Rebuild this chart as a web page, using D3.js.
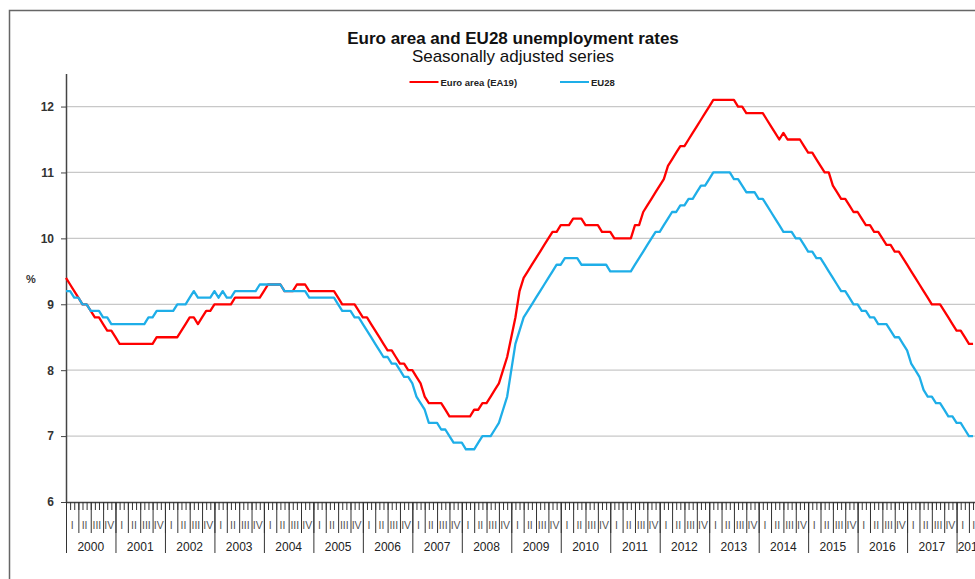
<!DOCTYPE html>
<html>
<head>
<meta charset="utf-8">
<script src="https://cdn.jsdelivr.net/npm/d3@7"></script>
<style>
  body { margin: 0; background: #fff; }
  svg { display: block; font-family: "Liberation Sans", Arial, sans-serif; }
</style>
</head>
<body>
<div id="chart"></div>
<script>
// DATA (monthly, Jan 2000 - May 2018, %)
const euroArea = [
  9.4, 9.3, 9.2, 9.1, 9.0, 9.0, 8.9, 8.8, 8.8, 8.7, 8.6, 8.6, // 2000
  8.5, 8.4, 8.4, 8.4, 8.4, 8.4, 8.4, 8.4, 8.4, 8.4, 8.5, 8.5, // 2001
  8.5, 8.5, 8.5, 8.5, 8.6, 8.7, 8.8, 8.8, 8.7, 8.8, 8.9, 8.9, // 2002
  9.0, 9.0, 9.0, 9.0, 9.0, 9.1, 9.1, 9.1, 9.1, 9.1, 9.1, 9.1, // 2003
  9.2, 9.3, 9.3, 9.3, 9.3, 9.2, 9.2, 9.2, 9.3, 9.3, 9.3, 9.2, // 2004
  9.2, 9.2, 9.2, 9.2, 9.2, 9.2, 9.1, 9.0, 9.0, 9.0, 9.0, 8.9, // 2005
  8.8, 8.8, 8.7, 8.6, 8.5, 8.4, 8.3, 8.3, 8.2, 8.1, 8.1, 8.0, // 2006
  8.0, 7.9, 7.8, 7.6, 7.5, 7.5, 7.5, 7.5, 7.4, 7.3, 7.3, 7.3, // 2007
  7.3, 7.3, 7.3, 7.4, 7.4, 7.5, 7.5, 7.6, 7.7, 7.8, 8.0, 8.2, // 2008
  8.5, 8.8, 9.2, 9.4, 9.5, 9.6, 9.7, 9.8, 9.9, 10.0, 10.1, 10.1, // 2009
  10.2, 10.2, 10.2, 10.3, 10.3, 10.3, 10.2, 10.2, 10.2, 10.2, 10.1, 10.1, // 2010
  10.1, 10.0, 10.0, 10.0, 10.0, 10.0, 10.2, 10.2, 10.4, 10.5, 10.6, 10.7, // 2011
  10.8, 10.9, 11.1, 11.2, 11.3, 11.4, 11.4, 11.5, 11.6, 11.7, 11.8, 11.9, // 2012
  12.0, 12.1, 12.1, 12.1, 12.1, 12.1, 12.1, 12.0, 12.0, 11.9, 11.9, 11.9, // 2013
  11.9, 11.9, 11.8, 11.7, 11.6, 11.5, 11.6, 11.5, 11.5, 11.5, 11.5, 11.4, // 2014
  11.3, 11.3, 11.2, 11.1, 11.0, 11.0, 10.8, 10.7, 10.6, 10.6, 10.5, 10.4, // 2015
  10.4, 10.3, 10.2, 10.2, 10.1, 10.1, 10.0, 9.9, 9.9, 9.8, 9.8, 9.7, // 2016
  9.6, 9.5, 9.4, 9.3, 9.2, 9.1, 9.0, 9.0, 9.0, 8.9, 8.8, 8.7, // 2017
  8.6, 8.6, 8.5, 8.4, 8.4 // 2018
];

const eu28 = [
  9.2, 9.2, 9.1, 9.1, 9.0, 9.0, 8.9, 8.9, 8.9, 8.8, 8.8, 8.7, // 2000
  8.7, 8.7, 8.7, 8.7, 8.7, 8.7, 8.7, 8.7, 8.8, 8.8, 8.9, 8.9, // 2001
  8.9, 8.9, 8.9, 9.0, 9.0, 9.0, 9.1, 9.2, 9.1, 9.1, 9.1, 9.1, // 2002
  9.2, 9.1, 9.2, 9.1, 9.1, 9.2, 9.2, 9.2, 9.2, 9.2, 9.2, 9.3, // 2003
  9.3, 9.3, 9.3, 9.3, 9.3, 9.2, 9.2, 9.2, 9.2, 9.2, 9.2, 9.1, // 2004
  9.1, 9.1, 9.1, 9.1, 9.1, 9.1, 9.0, 8.9, 8.9, 8.9, 8.8, 8.8, // 2005
  8.7, 8.6, 8.5, 8.4, 8.3, 8.2, 8.2, 8.1, 8.1, 8.0, 7.9, 7.9, // 2006
  7.8, 7.6, 7.5, 7.4, 7.2, 7.2, 7.2, 7.1, 7.1, 7.0, 6.9, 6.9, // 2007
  6.9, 6.8, 6.8, 6.8, 6.9, 7.0, 7.0, 7.0, 7.1, 7.2, 7.4, 7.6, // 2008
  8.0, 8.4, 8.6, 8.8, 8.9, 9.0, 9.1, 9.2, 9.3, 9.4, 9.5, 9.6, // 2009
  9.6, 9.7, 9.7, 9.7, 9.7, 9.6, 9.6, 9.6, 9.6, 9.6, 9.6, 9.6, // 2010
  9.5, 9.5, 9.5, 9.5, 9.5, 9.5, 9.6, 9.7, 9.8, 9.9, 10.0, 10.1, // 2011
  10.1, 10.2, 10.3, 10.4, 10.4, 10.5, 10.5, 10.6, 10.6, 10.7, 10.8, 10.8, // 2012
  10.9, 11.0, 11.0, 11.0, 11.0, 11.0, 10.9, 10.9, 10.8, 10.7, 10.7, 10.7, // 2013
  10.6, 10.6, 10.5, 10.4, 10.3, 10.2, 10.1, 10.1, 10.1, 10.0, 10.0, 9.9, // 2014
  9.8, 9.8, 9.7, 9.7, 9.6, 9.5, 9.4, 9.3, 9.2, 9.2, 9.1, 9.0, // 2015
  9.0, 8.9, 8.9, 8.8, 8.8, 8.7, 8.7, 8.7, 8.6, 8.5, 8.5, 8.4, // 2016
  8.3, 8.1, 8.0, 7.9, 7.7, 7.6, 7.6, 7.5, 7.5, 7.4, 7.3, 7.3, // 2017
  7.2, 7.2, 7.1, 7.0, 7.0 // 2018
];

const seriesNames = ["Euro area (EA19)", "EU28"];
const seriesColors = ["#ff0000", "#1eaee8"];
const yTicks = [6, 7, 8, 9, 10, 11, 12];
const yearLabels = ["2000", "2001", "2002", "2003", "2004", "2005", "2006", "2007", "2008",
  "2009", "2010", "2011", "2012", "2013", "2014", "2015", "2016", "2017", "2018"];
const quarterLabels = ["I", "II", "III", "IV"];
const axisMonths = 223; // axis runs to end of July 2018

// CHART
const width = 975;
const height = 579;
const margin = { top: 73.6, bottom: 77, left: 66 };
const monthWidth = 4.123;

const svg = d3
  .select("div#chart")
  .append("svg")
  .attr("width", width)
  .attr("height", height);

// marco exterior
svg
  .append("path")
  .attr("d", `M9.5,${height}V10.5H${width}`)
  .attr("fill", "none")
  .attr("stroke", "#666")
  .attr("stroke-width", 1.5);

const x = d3
  .scaleLinear()
  .domain([0, axisMonths])
  .range([margin.left, margin.left + axisMonths * monthWidth]);

const y = d3
  .scaleLinear()
  .domain([6, 12.5])
  .range([height - margin.bottom, margin.top]);

// titulos
svg
  .append("text")
  .attr("x", 513)
  .attr("y", 44)
  .attr("text-anchor", "middle")
  .attr("font-size", 17)
  .attr("font-weight", "bold")
  .attr("fill", "#111")
  .text("Euro area and EU28 unemployment rates");

svg
  .append("text")
  .attr("x", 513)
  .attr("y", 62)
  .attr("text-anchor", "middle")
  .attr("font-size", 17)
  .attr("fill", "#111")
  .text("Seasonally adjusted series");

// leyenda
const legendX = [409.5, 560];
const legend = svg
  .append("g")
  .selectAll("g")
  .data(seriesNames)
  .enter()
  .append("g")
  .attr("transform", (d, i) => `translate(${legendX[i]}, 82)`);

legend
  .append("line")
  .attr("x1", 0)
  .attr("x2", 29)
  .attr("stroke", (d, i) => seriesColors[i])
  .attr("stroke-width", 2);

legend
  .append("text")
  .attr("x", 31)
  .attr("y", 3.5)
  .attr("font-size", 9.5)
  .attr("font-weight", "bold")
  .attr("fill", "#222")
  .text((d) => d);

// rejilla
svg
  .append("g")
  .selectAll("line")
  .data(yTicks.filter((d) => d > 6))
  .enter()
  .append("line")
  .attr("x1", margin.left)
  .attr("x2", width)
  .attr("y1", (d) => y(d))
  .attr("y2", (d) => y(d))
  .attr("stroke", "#c8c8c8")
  .attr("stroke-width", 1.2);

// eje Y
const yAxisGroup = svg
  .append("g")
  .attr("transform", `translate(${margin.left}, 0)`)
  .call(
    d3
      .axisLeft(y)
      .tickValues(yTicks)
      .tickFormat(d3.format("d"))
      .tickSize(5)
      .tickPadding(7)
      .tickSizeOuter(0)
  );

yAxisGroup.select(".domain").attr("stroke", "#444").attr("stroke-width", 1.5);
yAxisGroup.selectAll(".tick line").attr("stroke", "#444");
yAxisGroup
  .selectAll("text")
  .attr("font-size", 12)
  .attr("font-weight", "bold")
  .attr("font-family", "Liberation Sans, Arial, sans-serif")
  .attr("fill", "#333");

svg
  .append("text")
  .attr("x", 31)
  .attr("y", 283)
  .attr("text-anchor", "middle")
  .attr("font-size", 11)
  .attr("font-weight", "bold")
  .attr("fill", "#333")
  .text("%");

// eje X: meses, trimestres y años
const xAxisGroup = svg.append("g").attr("transform", `translate(0, ${y(6)})`);

xAxisGroup
  .append("g")
  .call(
    d3.axisBottom(x).tickValues(d3.range(0, axisMonths + 1)).tickSize(8).tickFormat("").tickSizeOuter(0)
  );

xAxisGroup
  .append("g")
  .call(d3.axisBottom(x).tickValues(d3.range(0, axisMonths + 1, 3)).tickSize(31).tickFormat(""))
  .select(".domain")
  .remove();

xAxisGroup
  .append("g")
  .call(d3.axisBottom(x).tickValues(d3.range(0, axisMonths + 1, 12)).tickSize(51).tickFormat(""))
  .select(".domain")
  .remove();

xAxisGroup.selectAll(".domain").attr("stroke", "#444").attr("stroke-width", 1.5);
xAxisGroup.selectAll(".tick line").attr("stroke", "#333");

xAxisGroup
  .append("g")
  .selectAll("text")
  .data(d3.range(0, axisMonths, 3))
  .enter()
  .append("text")
  .attr("x", (d) => x(Math.min(d + 3, axisMonths) / 2 + d / 2))
  .attr("y", 27)
  .attr("text-anchor", "middle")
  .attr("font-size", 10.5)
  .attr("fill", "#555")
  .text((d) => quarterLabels[(d / 3) % 4]);

xAxisGroup
  .append("g")
  .selectAll("text")
  .data(yearLabels)
  .enter()
  .append("text")
  .attr("x", (d, i) => x((i * 12 + Math.min(i * 12 + 12, axisMonths)) / 2))
  .attr("y", 49)
  .attr("text-anchor", "middle")
  .attr("font-size", 12)
  .attr("fill", "#222")
  .text((d) => d);

// series
const line = d3
  .line()
  .x((d, i) => x(i))
  .y((d) => y(d));

svg
  .append("g")
  .selectAll("path")
  .data([euroArea, eu28])
  .enter()
  .append("path")
  .attr("d", line)
  .attr("fill", "none")
  .attr("stroke", (d, i) => seriesColors[i])
  .attr("stroke-width", 2.3)
  .attr("stroke-linejoin", "round");
</script>
</body>
</html>
